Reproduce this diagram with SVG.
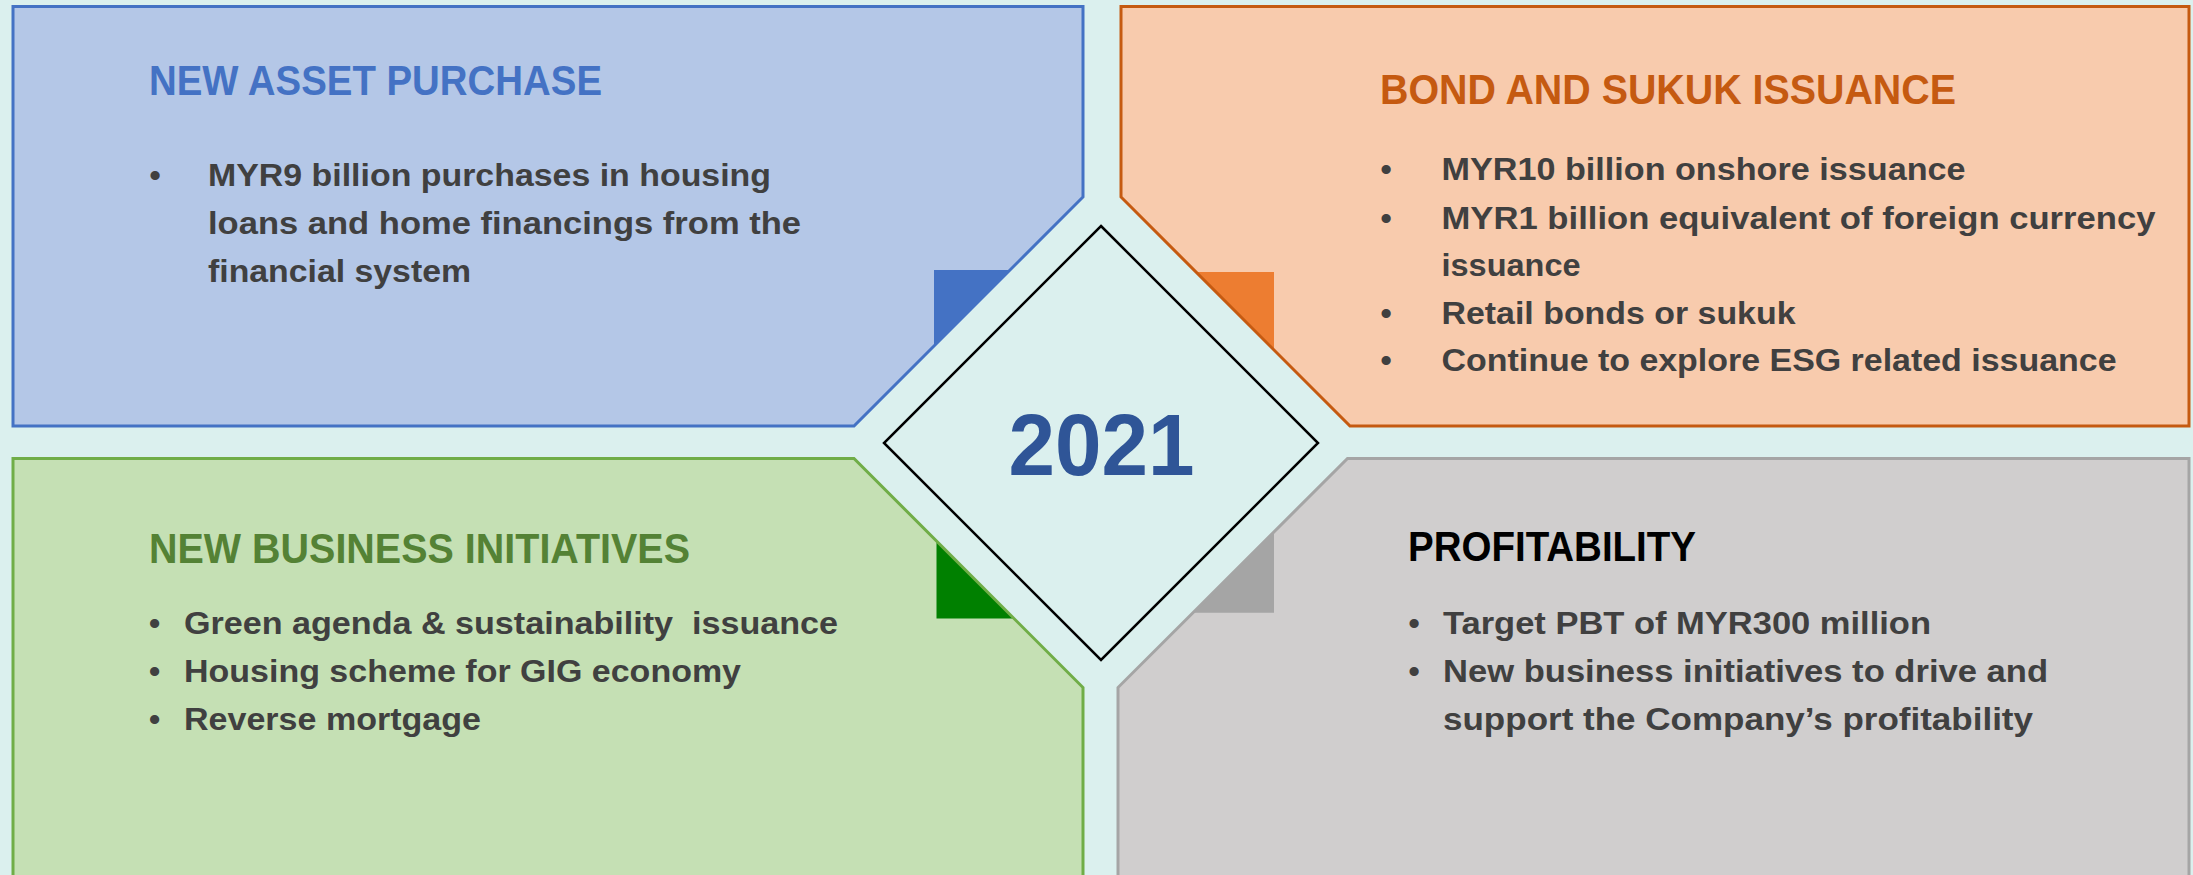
<svg xmlns="http://www.w3.org/2000/svg" width="2193" height="875" viewBox="0 0 2193 875">
<style>
.bg{fill:#DBF0EE}
.t{font-family:"Liberation Sans",Arial,sans-serif;font-weight:bold}
.h{font-size:42px}
.b{font-size:32px;fill:#404040}
.d{font-size:32px;fill:#404040;text-anchor:middle}
.edge{fill:none;stroke-width:3;stroke-linejoin:miter}
</style>
<rect class="bg" x="0" y="0" width="2193" height="875"/>

<g id="node-new-asset-purchase">
  <path d="M13,6.5 H1083 V197 L854,426 H13 Z" fill="#B4C7E7"/>
  <path d="M934,270 H1011 L934,347 Z" fill="#4472C4"/>
  <path class="edge" d="M13,6.5 H1083 V197 L854,426 H13 Z" stroke="#4472C4"/>
  <text class="t h" x="149" y="95" fill="#4472C4" textLength="453" lengthAdjust="spacingAndGlyphs">NEW ASSET PURCHASE</text>
  <text class="t d" x="155" y="186">•</text>
  <text class="t b" x="208" y="186" textLength="563" lengthAdjust="spacingAndGlyphs">MYR9 billion purchases in housing</text>
  <text class="t b" x="208" y="233.5" textLength="593" lengthAdjust="spacingAndGlyphs">loans and home financings from the</text>
  <text class="t b" x="208" y="281.5" textLength="263" lengthAdjust="spacingAndGlyphs">financial system</text>
</g>

<g id="node-bond-sukuk-issuance">
  <path d="M1121,6.5 H2189 V426 H1350 L1121,197 Z" fill="#F8CBAD"/>
  <path d="M1196,272 H1274 V349 Z" fill="#ED7D31"/>
  <path class="edge" d="M1121,6.5 H2189 V426 H1350 L1121,197 Z" stroke="#C55A11"/>
  <text class="t h" x="1380" y="104" fill="#C55A11" textLength="576" lengthAdjust="spacingAndGlyphs">BOND AND SUKUK ISSUANCE</text>
  <text class="t d" x="1386" y="180">•</text>
  <text class="t b" x="1441.5" y="180" textLength="524" lengthAdjust="spacingAndGlyphs">MYR10 billion onshore issuance</text>
  <text class="t d" x="1386" y="228.5">•</text>
  <text class="t b" x="1441.5" y="228.5" textLength="714" lengthAdjust="spacingAndGlyphs">MYR1 billion equivalent of foreign currency</text>
  <text class="t b" x="1441.5" y="276" textLength="139" lengthAdjust="spacingAndGlyphs">issuance</text>
  <text class="t d" x="1386" y="323.5">•</text>
  <text class="t b" x="1441.5" y="323.5" textLength="354" lengthAdjust="spacingAndGlyphs">Retail bonds or sukuk</text>
  <text class="t d" x="1386" y="371">•</text>
  <text class="t b" x="1441.5" y="371" textLength="675" lengthAdjust="spacingAndGlyphs">Continue to explore ESG related issuance</text>
</g>

<g id="node-new-business-initiatives">
  <path d="M13,458.5 H854 L1083,687.5 V880 H13 Z" fill="#C5E0B4"/>
  <path d="M936.5,541 V618.5 H1013.8 Z" fill="#008000"/>
  <path class="edge" d="M13,880 V458.5 H854 L1083,687.5 V880" stroke="#70AD47"/>
  <text class="t h" x="149" y="562.5" fill="#548235" textLength="541" lengthAdjust="spacingAndGlyphs">NEW BUSINESS INITIATIVES</text>
  <text class="t d" x="154.5" y="634">•</text>
  <text class="t b" x="184" y="634" textLength="654" lengthAdjust="spacingAndGlyphs" xml:space="preserve">Green agenda &amp; sustainability  issuance</text>
  <text class="t d" x="154.5" y="682">•</text>
  <text class="t b" x="184" y="682" textLength="557" lengthAdjust="spacingAndGlyphs">Housing scheme for GIG economy</text>
  <text class="t d" x="154.5" y="730">•</text>
  <text class="t b" x="184" y="730" textLength="297" lengthAdjust="spacingAndGlyphs">Reverse mortgage</text>
</g>

<g id="node-profitability">
  <path d="M1347.5,458.5 H2189 V880 H1118 V687.5 Z" fill="#D0CECE"/>
  <path d="M1274,532 V612.7 H1193.3 Z" fill="#A5A5A5"/>
  <path class="edge" d="M1118,880 V687.5 L1347.5,458.5 H2189 V880" stroke="#A5A5A5"/>
  <text class="t h" x="1408" y="561" fill="#000000" textLength="288" lengthAdjust="spacingAndGlyphs">PROFITABILITY</text>
  <text class="t d" x="1414" y="634">•</text>
  <text class="t b" x="1443" y="634" textLength="488" lengthAdjust="spacingAndGlyphs">Target PBT of MYR300 million</text>
  <text class="t d" x="1414" y="682">•</text>
  <text class="t b" x="1443" y="682" textLength="605" lengthAdjust="spacingAndGlyphs">New business initiatives to drive and</text>
  <text class="t b" x="1443" y="730" textLength="590" lengthAdjust="spacingAndGlyphs">support the Company’s profitability</text>
</g>

<g id="node-2021">
  <polygon points="1101,226 1318,443 1101,660 884,443" fill="#DBF0EE" stroke="#000000" stroke-width="2.5"/>
  <text class="t" x="1101.5" y="475" font-size="87" fill="#2F5597" text-anchor="middle" textLength="186" lengthAdjust="spacingAndGlyphs">2021</text>
</g>
</svg>
